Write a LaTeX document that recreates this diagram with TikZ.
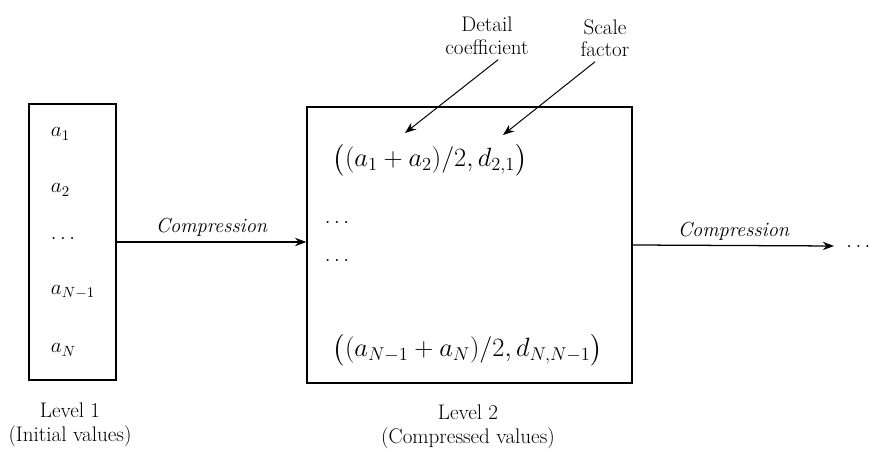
\RequirePackage{fix-cm}
\documentclass[tikz,border=0pt]{standalone}
\usepackage{amsmath,amssymb}
\usepackage{tikz}
\usetikzlibrary{positioning}
\usetikzlibrary{arrows.meta}

\tikzset{
    levelbox/.style={draw, line width=1.2pt, inner sep=0pt},
    flow/.style={-{Stealth[length=8pt,width=6pt]}, line width=0.9pt},
    pointer/.style={-{Stealth[length=8pt,width=6pt]}, line width=0.7pt},
    entry/.style={anchor=west, font=\fontsize{15}{18}\selectfont},
    pair/.style={anchor=west, font=\fontsize{18.8}{22}\selectfont},
    caption/.style={align=center, font=\fontsize{15}{17}\selectfont},
    note/.style={align=center, font=\fontsize{15}{16}\selectfont},
    steplabel/.style={above, font=\fontsize{14.5}{17}\selectfont\itshape}
}

\begin{document}
\begin{tikzpicture}
    \useasboundingbox (0,0) rectangle (21.8,11.35);

    % Level 1 box
    \node[levelbox, minimum width=2.175cm, minimum height=6.9cm] (lvl1) at (1.81,5.3) {};
    \node[entry] (a1) at (1.15,8.0) {$a_1$};
    \node[entry] (a2) at (1.15,6.6) {$a_2$};
    \node[entry] (adots) at (1.15,5.4) {$\dots$};
    \node[entry] (aNm) at (1.15,4.05) {$a_{N-1}$};
    \node[entry] (aN) at (1.15,2.6) {$a_N$};
    \node[caption] (cap1) at (1.75,0.72) {Level 1\\(Initial values)};

    % Level 2 box
    \node[levelbox, minimum width=8.125cm, minimum height=6.9cm] (lvl2) at (11.74,5.225) {};
    \node[pair] (first) at (8.2,7.35) {$\bigl((a_1+a_2)/2,d_{2,1}\bigr)$};
    \node[entry] (dots1) at (8.0,5.8) {$\dots$};
    \node[entry] (dots2) at (8.0,4.85) {$\dots$};
    \node[pair] (last) at (8.2,2.6) {$\bigl((a_{N-1}+a_N)/2,d_{N,N-1}\bigr)$};
    \node[caption] (cap2) at (11.7,0.68) {Level 2\\(Compressed values)};

    % Compression steps
    \draw[flow] (lvl1.east) -- node[steplabel] {Compression} (lvl1.east -| lvl2.west);
    \node[entry, inner xsep=0.3cm] (more) at (20.85,5.2) {$\dots$};
    \draw[flow] (lvl2.east) -- node[steplabel] {Compression} (more.west);

    % Annotations
    \node[note] (detail) at (12.175,10.45) {Detail\\coefficient};
    \node[note] (scale) at (15.125,10.4) {Scale\\factor};
    \coordinate (dtip) at (10.125,8.025);
    \coordinate (stip) at (12.575,7.975);
    \draw[pointer] ([xshift=8pt]detail.south) -- (dtip);
    \draw[pointer] ([xshift=-7pt]scale.south) -- (stip);
\end{tikzpicture}
\end{document}
